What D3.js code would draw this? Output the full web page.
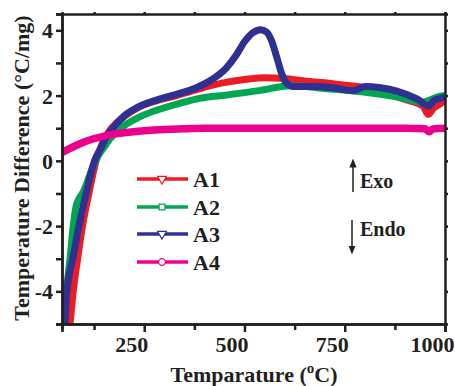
<!DOCTYPE html>
<html>
<head>
<meta charset="utf-8">
<script src="https://cdn.jsdelivr.net/npm/d3@7"></script>
<style>
  body { margin: 0; background: #fff; }
  text { font-family: "Liberation Serif", "Times New Roman", serif; font-weight: bold; fill: #231f20; }
</style>
</head>
<body>
<div id="chart"></div>
<script>
// curves: [temperature, difference]
const a1 = [[60,-5.6],[65,-5],[73,-4],[84,-3],[96,-2],[112,-1],[130,0],[148,0.6],[165,0.95],[180,1.15],[200,1.36],[230,1.6],[280,1.84],[330,2.0],[380,2.18],[420,2.32],[460,2.42],[500,2.49],[550,2.55],[600,2.52],[650,2.45],[700,2.39],[750,2.32],[800,2.24],[850,2.08],[900,1.88],[945,1.68],[958,1.42],[972,1.62],[990,1.76],[1000,1.85]];
const a2 = [[45,-5.5],[50,-5],[56,-4],[65,-3],[73,-2],[80,-1.4],[88,-1.15],[96,-1.0],[105,-0.75],[115,-0.4],[125,-0.1],[135,0.15],[150,0.42],[165,0.68],[180,0.88],[197,1.05],[248,1.4],[298,1.62],[362,1.84],[390,1.92],[456,2.02],[540,2.16],[614,2.3],[714,2.2],[797,2.11],[879,1.96],[945,1.8],[962,1.86],[980,1.95],[1000,2.0]];
const a3 = [[45,-5.6],[52,-5],[57,-4],[72,-3],[87,-2],[105,-1],[126,0],[140,0.35],[150,0.6],[162,0.85],[180,1.12],[200,1.38],[230,1.62],[280,1.86],[330,2.04],[380,2.24],[420,2.5],[455,2.85],[480,3.25],[500,3.65],[520,3.92],[540,4.02],[555,3.95],[567,3.7],[580,3.2],[592,2.7],[605,2.38],[620,2.28],[672,2.28],[720,2.24],[772,2.15],[800,2.28],[840,2.24],[880,2.14],[930,1.9],[960,1.68],[972,1.85],[990,1.92],[1000,1.95]];
const a4 = [[45,0.25],[60,0.35],[80,0.47],[100,0.58],[125,0.68],[150,0.76],[175,0.82],[200,0.86],[250,0.92],[300,0.96],[350,0.98],[400,1.0],[500,1.0],[600,1.0],[700,1.0],[800,1.0],[900,1.0],[950,0.98],[960,0.89],[970,0.98],[1000,1.0]];

const seriesNames = ["A1", "A2", "A3", "A4"];
const colors = ["#ed1c24", "#00a651", "#2e3192", "#ec008c"];
const xTicks = [250, 500, 750, 1000];
const xMinor = [125, 375, 625, 875];
const yTicks = [-4, -2, 0, 2, 4];
const yMinor = [-3, -1, 1, 3];

const W = 455, H = 386;
const svg = d3.select("#chart").append("svg").attr("width", W).attr("height", H);

const x = d3.scaleLinear().domain([45, 1000]).range([62, 445]);
const y = d3.scaleLinear().domain([-5, 4.5]).range([324, 14]);

svg.append("clipPath").attr("id", "clip")
  .append("rect").attr("x", 62).attr("y", 14).attr("width", 383).attr("height", 310);

const line = d3.line().x(d => x(d[0])).y(d => y(d[1])).curve(d3.curveMonotoneX);

const plot = svg.append("g").attr("clip-path", "url(#clip)");
[a1, a2, a3, a4].forEach((s, i) => {
  plot.append("path")
    .attr("d", line(s))
    .attr("fill", "none")
    .attr("stroke", colors[i])
    .attr("stroke-width", i == 3 ? 7.5 : 7)
    .attr("stroke-linejoin", "round");
});

// axes, all four sides
const axisColor = "#231f20";
const bottom = svg.append("g").attr("transform", "translate(0,324)")
  .call(d3.axisBottom(x).tickValues(xTicks).tickSize(8).tickPadding(3).tickFormat(d3.format("d")));
svg.append("g").attr("transform", "translate(0,324)")
  .call(d3.axisBottom(x).tickValues(xMinor).tickSize(6).tickFormat(""));
const left = svg.append("g").attr("transform", "translate(62,0)")
  .call(d3.axisLeft(y).tickValues(yTicks).tickSize(6).tickPadding(3).tickFormat(d => d < 0 ? "-" + Math.abs(d) : d));
svg.append("g").attr("transform", "translate(62,0)")
  .call(d3.axisLeft(y).tickValues(yMinor).tickSize(6).tickFormat(""));
svg.append("g").attr("transform", "translate(0,14)")
  .call(d3.axisTop(x).tickValues(xTicks.concat(xMinor)).tickSize(2).tickFormat(""));
svg.append("g").attr("transform", "translate(445,0)")
  .call(d3.axisRight(y).tickValues(yTicks.concat(yMinor)).tickSize(3).tickFormat(""));

svg.selectAll(".domain").attr("stroke", axisColor).attr("stroke-width", 2.5);
svg.selectAll(".tick line").attr("stroke", axisColor).attr("stroke-width", 2.5);
svg.selectAll(".tick text").style("font-size", "22px").attr("fill", axisColor);
// the x labels sit a little left of their ticks in the original
bottom.selectAll(".tick text").attr("dy", "0.75em").attr("dx", -13);
left.selectAll(".tick text").attr("dy", "0.34em");

// axis titles
const xt = svg.append("text").attr("x", 254).attr("y", 382).attr("text-anchor", "middle").style("font-size", "22px");
xt.append("tspan").text("Temparature (");
xt.append("tspan").text("o").attr("dy", -9).style("font-size", "15px");
xt.append("tspan").text("C)").attr("dy", 9);

svg.append("text")
  .attr("transform", "translate(29,168) rotate(-90)")
  .attr("text-anchor", "middle")
  .style("font-size", "22px")
  .text("Temperature Difference (\u00B0C/mg)");

// legend
const legY = [179, 207, 234, 262];
const shapes = [d3.symbolTriangle, d3.symbolSquare, d3.symbolTriangle, d3.symbolCircle];
seriesNames.forEach((name, i) => {
  const g = svg.append("g");
  g.append("line").attr("x1", 137).attr("x2", 188).attr("y1", legY[i]).attr("y2", legY[i])
    .attr("stroke", colors[i]).attr("stroke-width", 3.5);
  g.append("path")
    .attr("d", d3.symbol().type(shapes[i]).size(i == 3 ? 36 : 34)())
    .attr("transform", "translate(162," + legY[i] + ")" + (i == 0 || i == 2 ? " rotate(180)" : ""))
    .attr("fill", "#fff").attr("stroke", colors[i]).attr("stroke-width", 1.2);
  g.append("text").attr("x", 193).attr("y", legY[i] + 8).style("font-size", "22px").text(name);
});

// exo / endo arrows
svg.append("defs").append("marker")
  .attr("id", "head").attr("viewBox", "0 0 10 10").attr("refX", 5).attr("refY", 5)
  .attr("markerWidth", 6).attr("markerHeight", 8).attr("orient", "auto")
  .append("path").attr("d", "M0,1 L10,5 L0,9 Z").attr("fill", axisColor);

svg.append("line").attr("x1", 353).attr("x2", 353).attr("y1", 192).attr("y2", 163)
  .attr("stroke", axisColor).attr("stroke-width", 1.5).attr("marker-end", "url(#head)");
svg.append("text").attr("x", 360).attr("y", 188).style("font-size", "20px").text("Exo");

svg.append("line").attr("x1", 352).attr("x2", 352).attr("y1", 220).attr("y2", 250)
  .attr("stroke", axisColor).attr("stroke-width", 1.5).attr("marker-end", "url(#head)");
svg.append("text").attr("x", 360).attr("y", 236).style("font-size", "20px").text("Endo");
</script>
</body>
</html>
